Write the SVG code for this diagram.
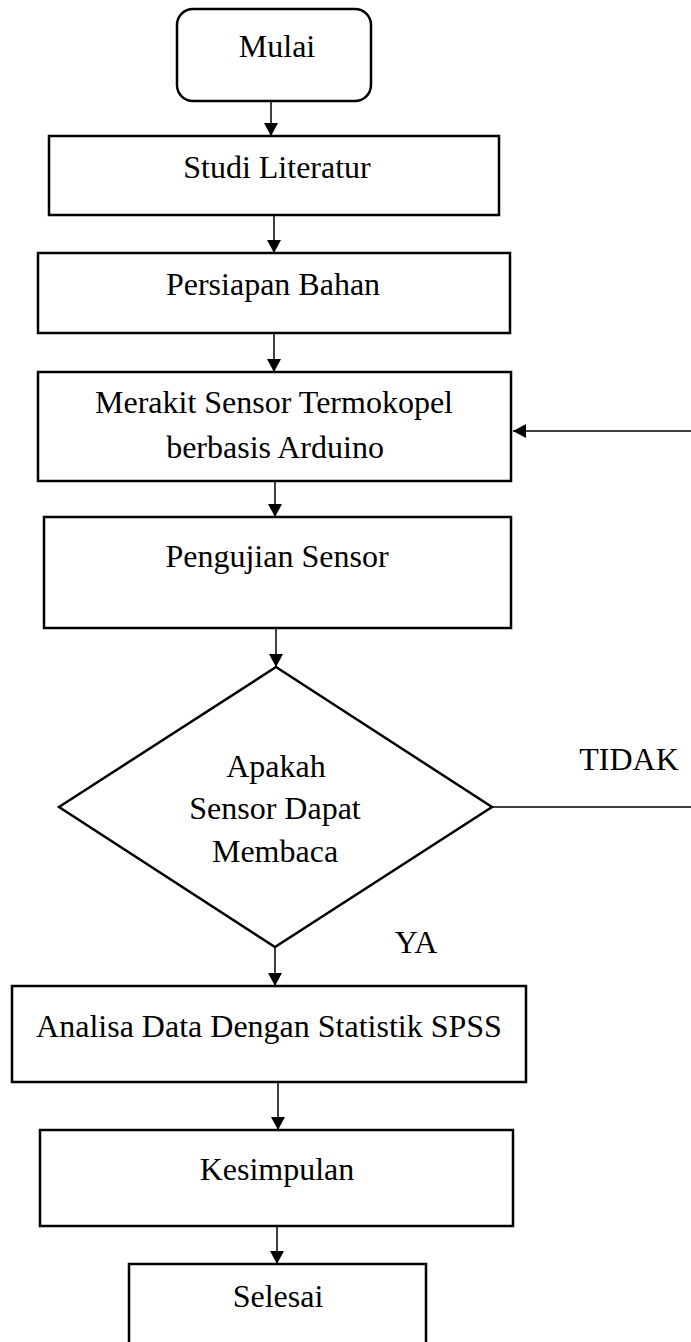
<svg xmlns="http://www.w3.org/2000/svg" width="691" height="1342" viewBox="0 0 691 1342">
<style>
.box{fill:#fff;stroke:#000;stroke-width:2.5}
.ln{fill:none;stroke:#000;stroke-width:1.5}
text{font-family:"Liberation Serif","Times New Roman",serif;font-size:32px;fill:#000;text-anchor:middle}
</style>
<defs>
<marker id="ah" viewBox="0 0 14 14" refX="13" refY="7" markerWidth="14" markerHeight="14" markerUnits="userSpaceOnUse" orient="auto">
<path d="M0,0 L13,7 L0,14 Z" fill="#000"/>
</marker>
</defs>
<rect width="691" height="1342" fill="#fff"/>
<g id="connectors">
<line class="ln" x1="271" y1="101" x2="271" y2="136" marker-end="url(#ah)"/>
<line class="ln" x1="274" y1="215" x2="274" y2="253" marker-end="url(#ah)"/>
<line class="ln" x1="274" y1="333" x2="274" y2="372" marker-end="url(#ah)"/>
<line class="ln" x1="275" y1="481" x2="275" y2="517" marker-end="url(#ah)"/>
<line class="ln" x1="276" y1="628" x2="276" y2="667" marker-end="url(#ah)"/>
<line class="ln" x1="275" y1="947" x2="275" y2="986" marker-end="url(#ah)"/>
<line class="ln" x1="278" y1="1082" x2="278" y2="1130" marker-end="url(#ah)"/>
<line class="ln" x1="277" y1="1226" x2="277" y2="1264" marker-end="url(#ah)"/>
<line class="ln" x1="492" y1="807" x2="691" y2="807"/>
<line class="ln" x1="691" y1="431" x2="513" y2="431" marker-end="url(#ah)"/>
<text x="629" y="770">TIDAK</text>
<text x="416" y="953">YA</text>
</g>
<g id="mulai">
<rect class="box" x="177" y="9" width="194" height="92" rx="16"/>
<text x="277" y="57">Mulai</text>
</g>
<g id="studi">
<rect class="box" x="49" y="136" width="450" height="79"/>
<text x="277" y="178">Studi Literatur</text>
</g>
<g id="persiapan">
<rect class="box" x="38" y="253" width="472" height="80"/>
<text x="273" y="295">Persiapan Bahan</text>
</g>
<g id="merakit">
<rect class="box" x="38" y="372" width="473" height="109"/>
<text x="274" y="413">Merakit Sensor Termokopel</text>
<text x="275" y="458">berbasis Arduino</text>
</g>
<g id="pengujian">
<rect class="box" x="44" y="517" width="467" height="111"/>
<text x="277" y="567">Pengujian Sensor</text>
</g>
<g id="keputusan">
<polygon class="box" points="276,667 492,807 275,947 59,807"/>
<text x="276" y="777">Apakah</text>
<text x="275" y="819">Sensor Dapat</text>
<text x="275" y="862">Membaca</text>
</g>
<g id="analisa">
<rect class="box" x="12" y="986" width="514" height="96"/>
<text x="269" y="1037">Analisa Data Dengan Statistik SPSS</text>
</g>
<g id="kesimpulan">
<rect class="box" x="40" y="1130" width="473" height="96"/>
<text x="277" y="1180">Kesimpulan</text>
</g>
<g id="selesai">
<path class="box" d="M129,1345 V1264 H426 V1345"/>
<text x="278" y="1307">Selesai</text>
</g>
</svg>
